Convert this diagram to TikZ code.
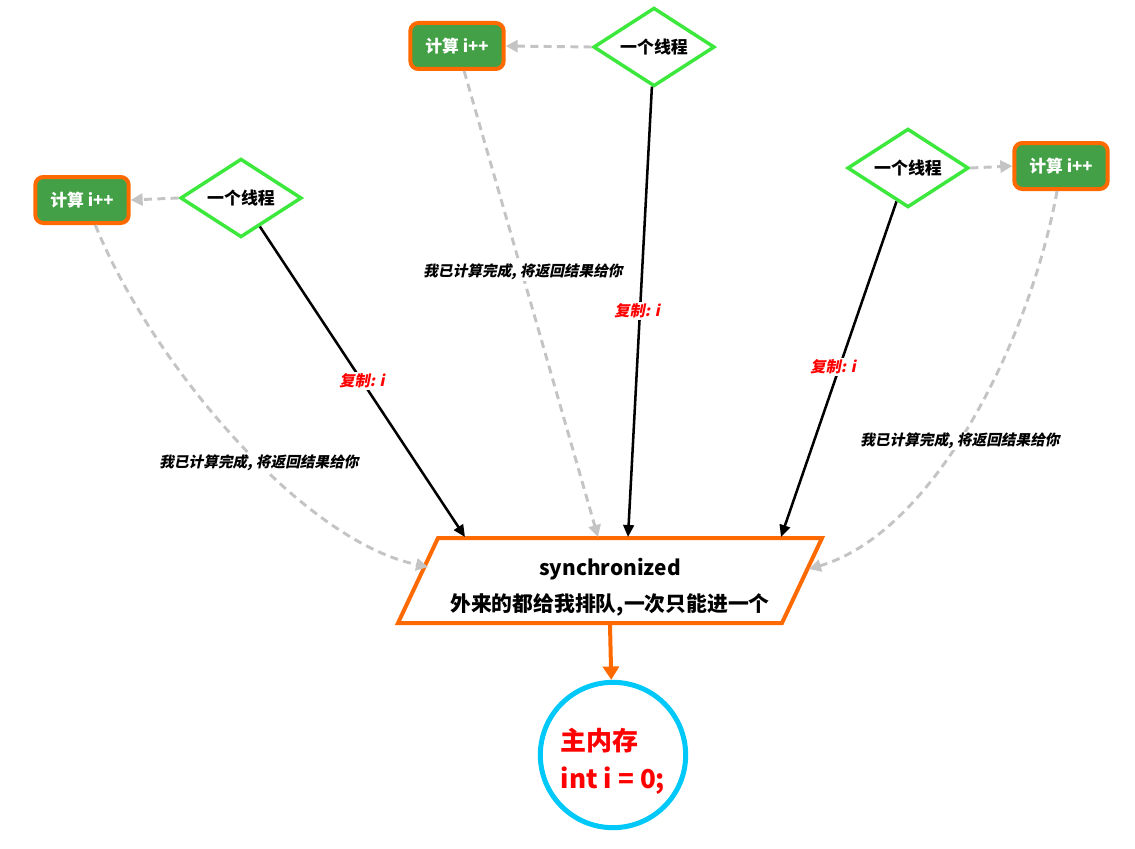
\documentclass[tikz,border=0pt]{standalone}
\usepackage{fontspec}
\setmainfont{Noto Sans CJK SC}
\newfontfamily\slfont{Noto Sans CJK SC}[FakeSlant=0.2]
\usetikzlibrary{shapes.geometric,arrows.meta}
\definecolor{orng}{HTML}{FF6A00}
\definecolor{grn}{HTML}{43A047}
\definecolor{dgrn}{HTML}{3DE83D}
\definecolor{gry}{HTML}{C4C4C4}
\definecolor{cyn}{HTML}{00C8F8}
\begin{document}
\begin{tikzpicture}[x=0.75pt,y=-0.75pt,
 calcbox/.style={draw=orng, line width=3pt, fill=grn, rounded corners=6pt, minimum width=70pt, minimum height=34.5pt, inner sep=0pt, text=white, font=\bfseries\fontsize{12.6}{14}\selectfont},
 thread/.style={diamond, draw=dgrn, line width=2.6pt, fill=white, minimum width=91pt, minimum height=59pt, inner sep=0pt, aspect=1.5, font=\bfseries\fontsize{12.7}{14}\selectfont},
 copyarrow/.style={draw=black, line width=1.9pt, -{Triangle[length=9pt,width=8pt]}},
 backarrow/.style={draw=gry, line width=2.2pt, dash pattern=on 6pt off 4pt, -{Triangle[length=9pt,width=9pt]}},
 copylab/.style={fill=white, text=red, inner sep=1pt, font=\slfont\bfseries\fontsize{11.4}{13}\selectfont},
 backlab/.style={fill=white, text=black, inner sep=1pt, font=\slfont\bfseries\fontsize{11}{13}\selectfont},
]
\useasboundingbox (0,0) rectangle (1135,849);

% threads and calc boxes
\node[calcbox] (tr) at (457,46) {计算 i++};
\node[thread] (td) at (654,47) {一个线程};
\node[calcbox] (lr) at (82,200) {计算 i++};
\node[thread] (ld) at (241,198) {一个线程};
\node[thread] (rd) at (908,168) {一个线程};
\node[calcbox] (rr) at (1061,166) {计算 i++};

% parallelogram
\coordinate (pA) at (438,538);
\coordinate (pB) at (822,538);
\coordinate (pC) at (782,623);
\coordinate (pD) at (398,623);
\draw[orng, line width=3pt, line join=miter, fill=white] (pA) -- (pB) -- (pC) -- (pD) -- cycle;
\node[align=center, font=\bfseries\fontsize{15.6}{27}\selectfont] (sync) at (610,587) {synchronized\\外来的都给我排队,一次只能进一个};

% arrow end points on the parallelogram
\coordinate (eL) at (465,537);
\coordinate (eT) at (628,537);
\coordinate (eR) at (781,537);
\coordinate (gT) at (598,537);
\coordinate (gL) at (428,567);
\coordinate (gR) at (809,569);
\coordinate (pM) at (610,625);

% memory
\node[circle, draw=cyn, line width=3.75pt, minimum size=109pt, inner sep=0pt] (mem) at (613,755) {};
\node[align=left, text=red, font=\bfseries\fontsize{19.5}{28.5}\selectfont] (memtxt) at (613,761) {主内存\\int i = 0;};

% thread -> calc
\draw[backarrow] (td.west) -- (tr.east);
\draw[backarrow] (ld.west) -- (lr.east);
\draw[backarrow] (rd.east) -- (rr.west);

% return curves
\draw[backarrow] (tr) -- (gT);
\draw[backarrow] (lr.-62) .. controls (150,360) and (300,540) .. (gL);
\draw[backarrow] (rr.-99) .. controls (1030,340) and (935,532) .. (gR);
\node[backlab] (lbT) at (523,272) {我已计算完成, 将返回结果给你};
\node[backlab] (lbL) at (259,463) {我已计算完成, 将返回结果给你};
\node[backlab] (lbR) at (960,441) {我已计算完成, 将返回结果给你};

% copy arrows
\draw[copyarrow] (ld) -- (eL);
\draw[copyarrow] (td) -- (eT);
\draw[copyarrow] (rd) -- (eR);
\node[copylab] (lcL) at (362,381) {复制: i};
\node[copylab] (lcT) at (637,311) {复制: i};
\node[copylab] (lcR) at (833,367) {复制: i};

% to memory
\draw[orng, line width=3pt, -{Triangle[length=10pt,width=12pt]}] (pM) -- (mem);
\end{tikzpicture}
\end{document}
